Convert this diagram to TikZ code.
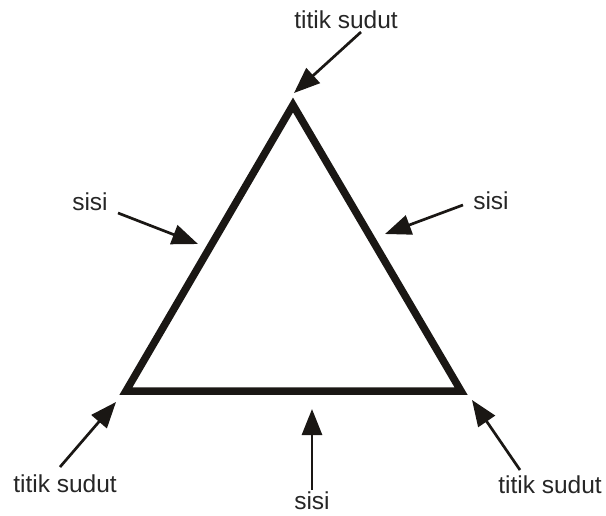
\documentclass[tikz,border=0pt]{standalone}
\usepackage{fontspec}
\setmainfont{Liberation Sans}
\usetikzlibrary{arrows.meta}
\definecolor{ink}{HTML}{1A1714}
\definecolor{txt}{HTML}{262626}
\tikzset{
  lbl/.style={text=txt, font=\fontsize{24.5}{27}\selectfont, inner sep=0pt},
  pointer/.style={draw=ink, line width=2.7pt, -{Triangle[length=26pt,width=20pt]}},
  tri/.style={draw=ink, line width=7.5pt, line join=miter}
}
\begin{document}
\begin{tikzpicture}[x=1pt,y=-1pt]
\useasboundingbox (0,0) rectangle (606,515);
% triangle
\coordinate (A) at (293,105);
\coordinate (B) at (126,391);
\coordinate (C) at (461,391);
\draw[tri] (A) -- (B) -- (C) -- cycle;
% labels
\node[lbl] (ltop) at (346,20) {titik sudut};
\node[lbl] (lleft) at (90,202) {sisi};
\node[lbl] (lright) at (491,201) {sisi};
\node[lbl] (lbl1) at (65,484) {titik sudut};
\node[lbl] (lbot) at (312,501) {sisi};
\node[lbl] (lbr) at (550,485) {titik sudut};
% arrow starts and tips
\coordinate (s1) at (361,32);  \coordinate (t1) at (294,93);
\coordinate (s2) at (118,213); \coordinate (t2) at (198,244);
\coordinate (s3) at (463,205); \coordinate (t3) at (385,234);
\coordinate (s4) at (60,467);  \coordinate (t4) at (116,402);
\coordinate (s5) at (312,490); \coordinate (t5) at (312,409);
\coordinate (s6) at (520,470); \coordinate (t6) at (472,400);
\draw[pointer] (s1) -- (t1);
\draw[pointer] (s2) -- (t2);
\draw[pointer] (s3) -- (t3);
\draw[pointer] (s4) -- (t4);
\draw[pointer] (s5) -- (t5);
\draw[pointer] (s6) -- (t6);
\end{tikzpicture}
\end{document}
